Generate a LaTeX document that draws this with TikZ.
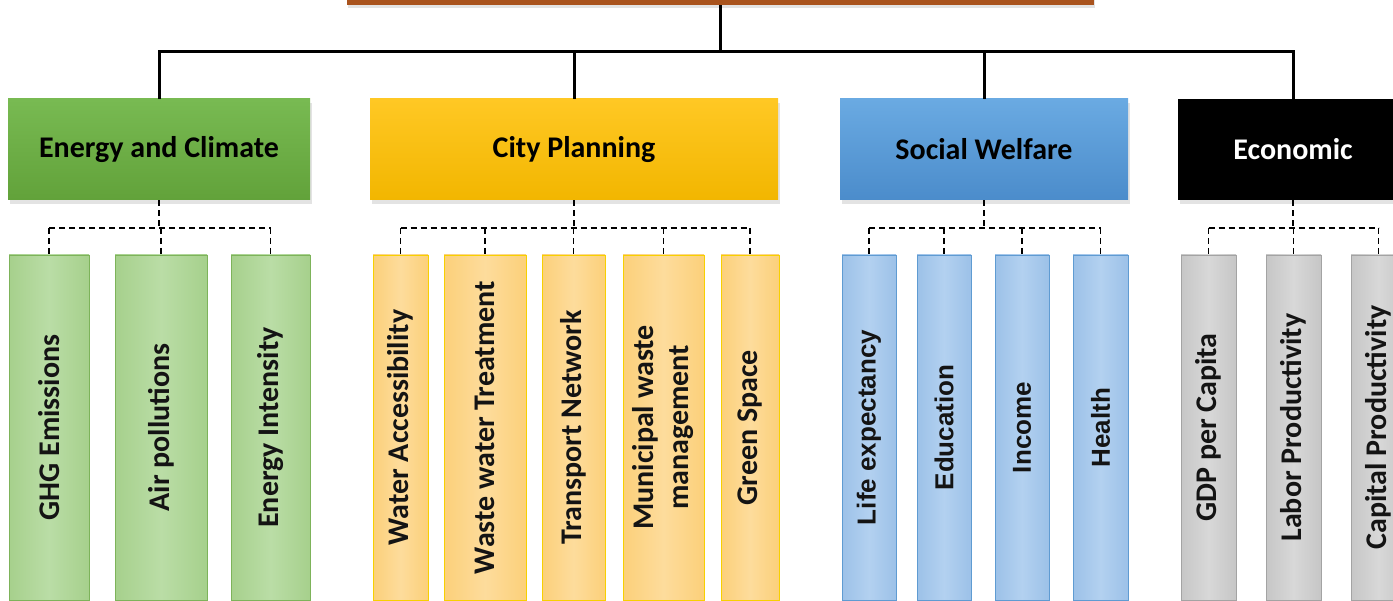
\documentclass[tikz,border=0pt]{standalone}
\usepackage{fontspec}
\setmainfont{Carlito}
\newfontfamily\arialfont{Liberation Sans}
\usetikzlibrary{shadows}

\definecolor{goalbrown}{HTML}{A9531D}
\definecolor{engtop}{HTML}{78BA52}
\definecolor{engbot}{HTML}{62A23A}
\definecolor{citytop}{HTML}{FFC824}
\definecolor{citybot}{HTML}{F2B600}
\definecolor{soctop}{HTML}{6AAAE2}
\definecolor{socbot}{HTML}{4B8CCB}
\definecolor{gleafE}{HTML}{A6D08C}
\definecolor{gleafM}{HTML}{BADDA6}
\definecolor{gline}{HTML}{7DB35A}
\definecolor{yleafE}{HTML}{FCD07A}
\definecolor{yleafM}{HTML}{FDDC9C}
\definecolor{yline}{HTML}{F7D000}
\definecolor{bleafE}{HTML}{9CC1E8}
\definecolor{bleafM}{HTML}{B3D1F0}
\definecolor{bline}{HTML}{5F9BD2}
\definecolor{kleafE}{HTML}{C6C6C6}
\definecolor{kleafM}{HTML}{D8D8D8}
\definecolor{kline}{HTML}{A3A3A3}

\begin{document}
\begin{tikzpicture}[x=1pt,y=-1pt,
  conn/.style={line width=3pt, black, line join=miter},
  dconn/.style={line width=1.8pt, black, dash pattern=on 6pt off 4pt},
  catbox/.style={minimum height=101pt, inner sep=0pt,
    font=\fontsize{30}{36}\selectfont\bfseries, text=black,
    drop shadow={opacity=0.22, shadow xshift=2pt, shadow yshift=-4pt}},
  leafbox/.style={minimum height=345pt, inner sep=0pt, line width=0.8pt,
    font=\fontsize{30}{36.6}\selectfont\bfseries, text=black!92},
  gleaf/.style={leafbox, draw=gline, left color=gleafE, right color=gleafE, middle color=gleafM},
  yleaf/.style={leafbox, draw=yline, left color=yleafE, right color=yleafE, middle color=yleafM},
  bleaf/.style={leafbox, draw=bline, left color=bleafE, right color=bleafE, middle color=bleafM,
    font=\arialfont\fontsize{26}{31}\selectfont\bfseries},
  kleaf/.style={leafbox, draw=kline, left color=kleafE, right color=kleafE, middle color=kleafM}
]
\useasboundingbox (0,0) rectangle (1393,601);
\clip (0,0) rectangle (1393,601);

% goal box at the top
\node[fill=goalbrown, minimum width=747pt, minimum height=50pt, inner sep=0pt,
      drop shadow={opacity=0.22, shadow xshift=1pt, shadow yshift=-3pt}] (goal) at (720.5,-20) {};

% category boxes
\node[catbox, minimum width=302pt, top color=engtop, bottom color=engbot] (energy) at (159,149.5) {Energy and Climate};
\node[catbox, minimum width=408pt, top color=citytop, bottom color=citybot] (city) at (574,149.5) {City Planning};
\node[catbox, minimum width=288pt, top color=soctop, bottom color=socbot] (social) at (984,149.5) {Social Welfare};
\node[catbox, minimum width=230pt, fill=black, text=white] (econ) at (1293,149.5) {Economic};

% indicator boxes
\node[gleaf, minimum width=80pt] (ghg) at (49,427.5) {\rotatebox{90}{GHG Emissions}};
\node[gleaf, minimum width=92pt] (air) at (161,427.5) {\rotatebox{90}{Air pollutions}};
\node[gleaf, minimum width=79pt] (eint) at (270.5,427.5) {\rotatebox{90}{Energy Intensity}};

\node[yleaf, minimum width=55pt] (wacc) at (400.5,427.5) {\rotatebox{90}{Water Accessibility}};
\node[yleaf, minimum width=82pt] (wwt) at (485,427.5) {\rotatebox{90}{Waste water Treatment}};
\node[yleaf, minimum width=63pt] (trans) at (573.5,427.5) {\rotatebox{90}{Transport Network}};
\node[yleaf, minimum width=81pt] (mwm) at (663.5,427.5) {\rotatebox{90}{\begin{tabular}{@{}c@{}}Municipal waste\\[-2pt]management\end{tabular}}};
\node[yleaf, minimum width=58pt] (gsp) at (750,427.5) {\rotatebox{90}{Green Space}};

\node[bleaf, minimum width=54pt] (life) at (869,427.5) {\rotatebox{90}{Life expectancy}};
\node[bleaf, minimum width=54pt] (edu) at (944,427.5) {\rotatebox{90}{Education}};
\node[bleaf, minimum width=54pt] (inc) at (1022,427.5) {\rotatebox{90}{Income}};
\node[bleaf, minimum width=55pt] (hea) at (1100.5,427.5) {\rotatebox{90}{Health}};

\node[kleaf, minimum width=55pt] (gdp) at (1208.5,427.5) {\rotatebox{90}{GDP per Capita}};
\node[kleaf, minimum width=55pt] (lab) at (1293.5,427.5) {\rotatebox{90}{Labor Productivity}};
\node[kleaf, minimum width=55pt] (cap) at (1378.5,427.5) {\rotatebox{90}{Capital Productivity}};

% solid tree connectors
\coordinate (bar) at (0,52);
\draw[conn] (goal.south) -- (goal.south |- bar);
\draw[conn] (energy.north) -- (energy.north |- bar) -- (econ.north |- bar) -- (econ.north);
\draw[conn] (city.north |- bar) -- (city.north);
\draw[conn] (social.north |- bar) -- (social.north);

% dashed connectors to the indicators
\coordinate (dbus) at (0,228);
\foreach \cat/\first/\last/\leaves in {
    energy/ghg/eint/{ghg,air,eint},
    city/wacc/gsp/{wacc,wwt,trans,mwm,gsp},
    social/life/hea/{life,edu,inc,hea},
    econ/gdp/cap/{gdp,lab,cap}} {
  \draw[dconn] (\cat.south) -- (\cat.south |- dbus);
  \draw[dconn] (\first.north |- dbus) -- (\last.north |- dbus);
  \foreach \lf in \leaves {
    \draw[dconn] (\lf.north |- dbus) -- (\lf.north);
  }
}
\end{tikzpicture}
\end{document}
